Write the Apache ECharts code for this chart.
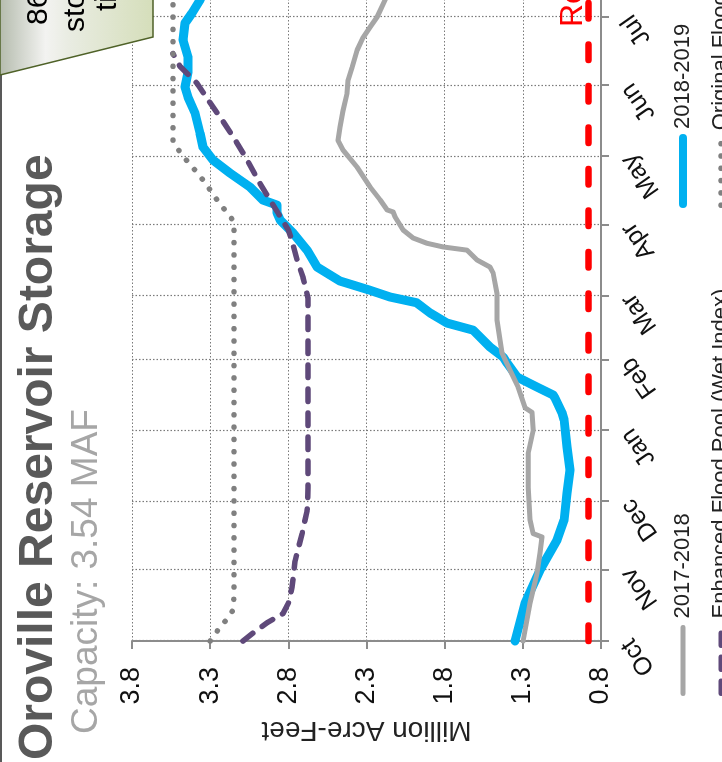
<!DOCTYPE html>
<html><head><meta charset="utf-8">
<script src="https://cdn.jsdelivr.net/npm/echarts@6/dist/echarts.min.js"></script>
<style>
html,body{margin:0;padding:0;width:722px;height:762px;overflow:hidden;background:#fff;}
#main{position:absolute;left:0;top:0;width:1000px;height:722px;transform-origin:0 0;transform:translate(0px,762px) rotate(-90deg);}
</style></head><body><div id="main"></div>
<script>
// Water-year months (day 0 = Oct 1)
const monthNames = ['Oct','Nov','Dec','Jan','Feb','Mar','Apr','May','Jun','Jul','Aug','Sep'];
const monthStartDays = [0,31,61,92,123,151,182,212,243,273,304,335];

// 2017-2018 storage (MAF)
const days1718 = [0,16.6,29.7,38.5,45.5,47,53,67,82,92,100,102,111,118.5,126,131.7,140.4,152,161,163.6,166.7,171,172.4,174,176.3,179.8,185.5,187.7,188.6,193,198.6,207.3,214.8,219,224.8,232,239.7,245.4,251,258.5,264,268.6,273,280.4,295];
const storage1718 = [1.298,1.254,1.209,1.19,1.177,1.234,1.254,1.266,1.266,1.234,1.241,1.286,1.33,1.382,1.433,1.446,1.465,1.465,1.49,1.51,1.593,1.657,1.81,1.913,2.002,2.066,2.117,2.13,2.168,2.213,2.277,2.36,2.45,2.482,2.469,2.45,2.424,2.418,2.392,2.36,2.322,2.277,2.232,2.181,2.08];

// 2018-2019 storage (MAF)
const days1819 = [0,16.6,31.1,44.2,52.9,64.7,74.8,84.9,96.7,99.7,106.3,107.6,111.1,115.5,121.6,124.2,128.6,136,139.1,143.5,148,150.5,153.5,157.5,163.6,171,178.5,184.2,187.2,190.7,192.9,198.6,204.7,210.4,216.1,222.2,231,238,242.3,248.5,255.5,262.9,270.3,274.7,280.4,290];
const storage1819 = [1.35,1.286,1.19,1.081,1.036,1.017,0.998,1.017,1.036,1.049,1.094,1.106,1.209,1.337,1.401,1.426,1.51,1.618,1.785,1.893,1.98,2.15,2.28,2.47,2.616,2.68,2.77,2.853,2.872,2.872,2.962,3.045,3.173,3.282,3.346,3.365,3.397,3.442,3.461,3.442,3.442,3.474,3.461,3.416,3.365,3.3];

// Enhanced Flood Pool (Wet Index)
const daysEnh = [0,3.5,8,12,16.6,23.6,35,47,57,67,150,159,166.7,175,179.8,187.3,194.3,201.7,210.5,219.2,228,236.8,244,251.4,257];
const storageEnh = [3.09,3.026,2.936,2.834,2.8,2.776,2.757,2.712,2.68,2.674,2.674,2.706,2.744,2.776,2.8,2.866,2.93,2.994,3.064,3.14,3.224,3.314,3.384,3.493,3.538];

// Original Flood Pool
const daysOrig = [0,4.8,9,13.5,20,179.8,184,188.5,193,197.3,201.7,206,209.5,213.9,218.3,365];
const storageOrig = [3.3,3.25,3.2,3.154,3.147,3.147,3.154,3.205,3.256,3.3,3.346,3.397,3.442,3.493,3.538,3.538];

// Record low reference line
const daysLow = [0,365];
const storageLow = [0.88,0.88];

const zip = (a,b) => a.map((d,i)=>[d,b[i]]);
const FF = '"Liberation Sans", Arial, sans-serif';
const chart = echarts.init(document.getElementById('main'), null, {renderer:'canvas'});
const gridLine = {show:true, lineStyle:{color:'#7a7a7a', width:1.2, type:[1.5,2]}};
const legendBase = (name, left, top, w) => ({
  data:[name], orient:'horizontal', left:left, top:top,
  itemWidth:66, itemHeight:14, selectedMode:false,
  itemStyle:{opacity:0},
  lineStyle:{width:w, cap:'round'},
  textStyle:{fontSize:22, color:'#222', fontFamily:FF, lineHeight:22, padding:[0,0,0,4]}
});

chart.setOption({
  animation:false,
  backgroundColor:'#ffffff',
  textStyle:{fontFamily:FF},
  grid:{left:121, top:132, width:834.3, height:469, outerBoundsMode:'none', containLabel:false},
  xAxis:{
    type:'value', min:0, max:365,
    axisLine:{show:true, lineStyle:{color:'#8c8c8c', width:2}},
    axisTick:{show:true, customValues:monthStartDays, length:8, lineStyle:{color:'#8c8c8c', width:2}},
    axisLabel:{customValues:monthStartDays, rotate:35, margin:26, fontSize:25, color:'#111', fontFamily:FF,
      formatter:(v)=>monthNames[monthStartDays.indexOf(Math.round(v))] || ''},
    splitLine:gridLine
  },
  yAxis:{
    type:'value', min:0.8, max:3.8, interval:0.5,
    name:'Million Acre-Feet', nameLocation:'middle', nameGap:74, nameRotate:90,
    nameTextStyle:{fontSize:28, color:'#222', fontFamily:FF},
    axisLine:{show:true, lineStyle:{color:'#8c8c8c', width:2}},
    axisTick:{show:true, length:8, lineStyle:{color:'#8c8c8c', width:2}},
    axisLabel:{margin:26, fontSize:27, color:'#111', fontFamily:FF, formatter:(v)=>v.toFixed(1)},
    splitLine:gridLine
  },
  legend:[
    legendBase('2017-2018', 61, 667, 5),
    legendBase('Enhanced Flood Pool (Wet Index)', 61, 705, 5),
    legendBase('2018-2019', 549, 667, 8),
    legendBase('Original Flood Pool', 549, 705, 5.5)
  ],
  series:[
    {name:'Record Low', type:'line', data:zip(daysLow,storageLow), symbol:'none', z:1,
     lineStyle:{color:'#FF0000', width:6.5, type:[15.5,26], cap:'round'}, itemStyle:{color:'#FF0000'}},
    {name:'2018-2019', type:'line', data:zip(days1819,storage1819), symbol:'none', z:2,
     lineStyle:{color:'#00B0F0', width:9, cap:'round', join:'round'}, itemStyle:{color:'#00B0F0'}},
    {name:'2017-2018', type:'line', data:zip(days1718,storage1718), symbol:'none', z:3,
     lineStyle:{color:'#A6A6A6', width:5, cap:'round', join:'round'}, itemStyle:{color:'#A6A6A6'}},
    {name:'Enhanced Flood Pool (Wet Index)', type:'line', data:zip(daysEnh,storageEnh), symbol:'none', z:4,
     lineStyle:{color:'#5F497A', width:5.5, type:[12.5,11.5], cap:'round'}, itemStyle:{color:'#5F497A'}},
    {name:'Original Flood Pool', type:'line', data:zip(daysOrig,storageOrig), symbol:'none', z:5,
     lineStyle:{color:'#808080', width:5.5, type:[0.1,12.2], cap:'round'}, itemStyle:{color:'#808080'}}
  ],
  graphic:[
    {type:'line', z:100, shape:{x1:0,y1:1,x2:687,y2:1}, style:{stroke:'#595959', lineWidth:2}},
    {type:'polygon', z:100, shape:{points:[[687,0],[725,153],[1000,153],[1000,0]]},
     style:{fill:new echarts.graphic.LinearGradient(0,0,0,1,[
       {offset:0,color:'#b4bbad'},{offset:0.3,color:'#f3f3f1'},{offset:0.45,color:'#e9ece2'},{offset:1,color:'#d5deba'}]),
       stroke:'#4f6228', lineWidth:1.5}},
    {type:'text', z:101, x:737, y:39, style:{text:'86% of average', fill:'#000', fontSize:30, fontFamily:FF, textAlign:'left', textVerticalAlign:'middle'}},
    {type:'text', z:101, x:730, y:76, style:{text:'storage for this', fill:'#000', fontSize:30, fontFamily:FF, textAlign:'left', textVerticalAlign:'middle'}},
    {type:'text', z:101, x:751, y:108, style:{text:'time of year', fill:'#000', fontSize:30, fontFamily:FF, textAlign:'left', textVerticalAlign:'middle'}},
    {type:'text', z:101, x:2, y:38.5, style:{text:'Oroville Reservoir Storage', fill:'#595959', fontSize:48, fontWeight:'bold', fontFamily:FF, textAlign:'left', textVerticalAlign:'middle'}},
    {type:'text', z:101, x:28, y:86.5, style:{text:'Capacity: 3.54 MAF', fill:'#a6a6a6', fontSize:37, fontFamily:FF, textAlign:'left', textVerticalAlign:'middle'}},
    {type:'text', z:101, x:735, y:573.5, style:{text:'Record Low', fill:'#FF0000', fontSize:32, fontFamily:FF, textAlign:'left', textVerticalAlign:'middle'}}
  ]
});
</script></body></html>
